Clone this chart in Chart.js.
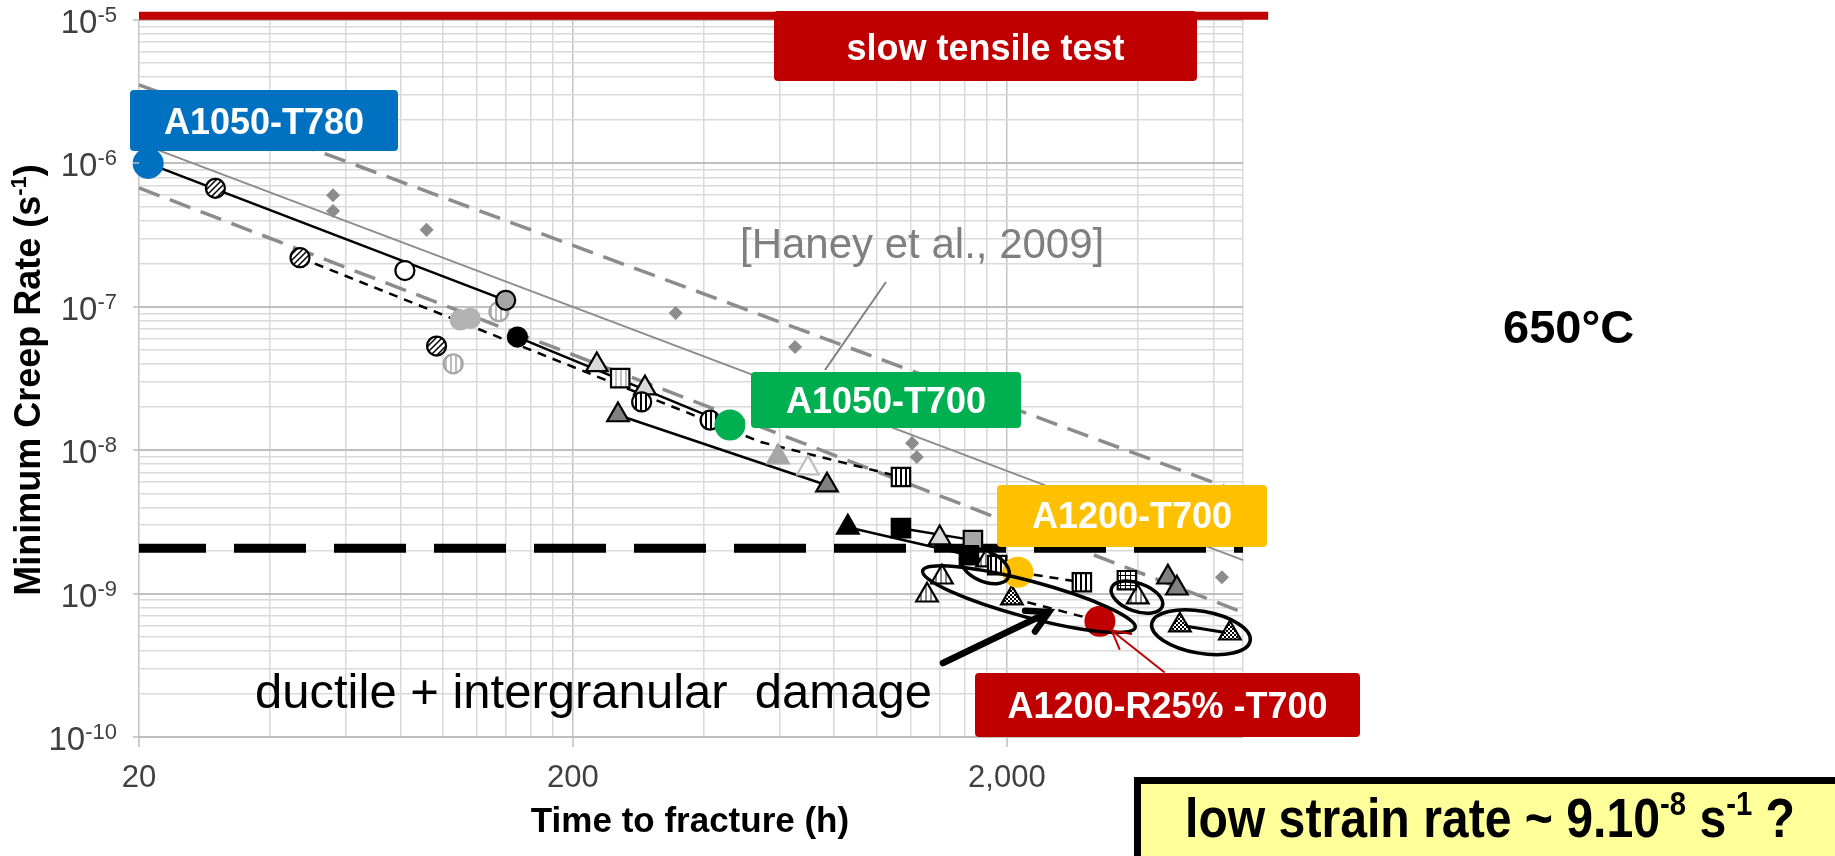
<!DOCTYPE html>
<html lang="en">
<head>
<meta charset="utf-8">
<title>Minimum creep rate vs. time to fracture - 650°C</title>
<script src="https://cdn.jsdelivr.net/npm/chart.js@4.4.1/dist/chart.umd.min.js"></script>
<style>
  html, body { margin: 0; padding: 0; background: #fff; overflow: hidden; }
  canvas { display: block; }
</style>
</head>
<body>
<canvas id="creepChart" width="1835" height="856"></canvas>
<script>
/* ===========================================================
   Minimum creep rate vs. time to fracture, 650°C (log-log)
   =========================================================== */

// axis ticks
const xTickValues = [20, 200, 2000];
const xTickLabels = ["20", "200", "2,000"];
const yTickExponents = [-10, -9, -8, -7, -6, -5];

// Haney et al., 2009: data points, fit and scatter band
const haneyHours = [56, 56, 92, 345, 650, 1210, 1240, 6260];
const haneyRates = [6.0e-7, 4.66e-7, 3.44e-7, 9.06e-8, 5.24e-8, 1.12e-8, 8.96e-9, 1.3e-9];
const bandHours = [20, 7000];
const haneyFitRates = [1.39e-6, 1.71e-9];
const haneyUpperRates = [3.53e-6, 5.0e-9];
const haneyLowerRates = [6.75e-7, 7.4e-10];

// reference strain-rate levels
const tensileHours = [20, 8000];
const tensileRates = [1.07e-5, 1.07e-5];
const lowRateHours = [20, 7000];
const lowRateRates = [2.07e-9, 2.07e-9];

// highlighted conditions
const alloyNames = ["A1050-T780", "A1050-T700", "A1200-T700", "A1200-R25% -T700"];
const alloyHours = [21, 460, 2120, 3276];
const alloyRates = [1.0e-6, 1.5e-8, 1.41e-9, 6.42e-10];

// trend lines
const t780LineHours = [21, 140];
const t780LineRates = [1.0e-6, 1.11e-7];
const dashLineHours = [47, 542, 1140];
const dashLineRates = [2.2e-7, 1.14e-8, 6.5e-9];
const t700LineHours = [149, 460];
const t700LineRates = [6.15e-8, 1.5e-8];
const t700LowHours = [254, 770];
const t700LowRates = [1.76e-8, 5.7e-9];
const a1200LineHours = [860, 1635, 2120];
const a1200LineRates = [2.9e-9, 1.85e-9, 1.41e-9];
const a1200SqHours = [1140, 1670];
const a1200SqRates = [2.86e-9, 2.36e-9];
const a1200DashHours = [2120, 2977];
const a1200DashRates = [1.41e-9, 1.2e-9];
const r25DashHours = [2054, 3276];
const r25DashRates = [9.29e-10, 6.42e-10];
const r25LineHours = [5008, 6530];
const r25LineRates = [6.02e-10, 5.29e-10];

// test results, grouped by marker
const circleWhiteHours = [82];
const circleWhiteRates = [1.79e-7];
const circleDiagHours = [30, 47, 97];
const circleDiagRates = [6.7e-7, 2.2e-7, 5.32e-8];
const circleGrayHours = [140];
const circleGrayRates = [1.11e-7];
const circlePaleHours = [110, 116];
const circlePaleRates = [8.1e-8, 8.3e-8];
const circlePaleHatchHours = [135, 106];
const circlePaleHatchRates = [9.25e-8, 4.0e-8];
const circleBlackHours = [149];
const circleBlackRates = [6.15e-8];
const circleVHatchHours = [288, 414];
const circleVHatchRates = [2.17e-8, 1.62e-8];
const triLightHours = [227, 293, 1400];
const triLightRates = [3.93e-8, 2.71e-8, 2.44e-9];
const squareLightHours = [257];
const squareLightRates = [3.18e-8];
const squareVHatchHours = [1140, 1900, 2977];
const squareVHatchRates = [6.5e-9, 1.58e-9, 1.2e-9];
const triDarkHours = [254, 770, 4700, 4929];
const triDarkRates = [1.76e-8, 5.7e-9, 1.3e-9, 1.09e-9];
const triGrayHours = [594];
const triGrayRates = [8.96e-9];
const triFaintHours = [696];
const triFaintRates = [7.5e-9];
const triBlackHours = [860];
const triBlackRates = [2.9e-9];
const squareBlackHours = [1140, 1635];
const squareBlackRates = [2.86e-9, 1.85e-9];
const squareGrayHours = [1670];
const squareGrayRates = [2.36e-9];
const squareGridHours = [3780];
const squareGridRates = [1.24e-9];
const triVHatchHours = [1800, 1417, 4005, 1309];
const triVHatchRates = [1.71e-9, 1.3e-9, 9.44e-10, 9.74e-10];
const triCheckerHours = [2054, 5008, 6530];
const triCheckerRates = [9.29e-10, 6.02e-10, 5.29e-10];

/* ---------- styling ---------- */

const FONT = "'Liberation Sans', Arial, Helvetica, sans-serif";
const alloyColors = ["#0070C0", "#00B050", "#FFC000", "#C00000"];

const ctx = document.getElementById("creepChart").getContext("2d");

// small fill patterns for hatched markers
function tile(size, paint) {
  const c = document.createElement("canvas");
  c.width = c.height = size;
  const g = c.getContext("2d");
  g.fillStyle = "#fff";
  g.fillRect(0, 0, size, size);
  paint(g, size);
  return ctx.createPattern(c, "repeat");
}
const diagHatch = tile(6, (g, s) => {
  g.strokeStyle = "#000";
  g.lineWidth = 1.5;
  g.beginPath();
  g.moveTo(0, s); g.lineTo(s, 0);
  g.moveTo(-1, 1); g.lineTo(1, -1);
  g.moveTo(s - 1, s + 1); g.lineTo(s + 1, s - 1);
  g.stroke();
});
const vHatch = (color) => tile(5, (g, s) => { g.fillStyle = color; g.fillRect(0, 0, 2, s); });
const checker = tile(4, (g) => {
  g.fillStyle = "#000";
  g.fillRect(0, 0, 2, 2);
  g.fillRect(2, 2, 2, 2);
});
const gridFill = tile(5, (g, s) => {
  g.fillStyle = "#000";
  g.fillRect(0, 0, s, 1);
  g.fillRect(0, 0, 1, s);
});

const toPoints = (hours, rates) => hours.map((h, i) => ({ x: h, y: rates[i] }));

function lineSet(hours, rates, color, width, dash, order, dashOffset) {
  return {
    data: toPoints(hours, rates),
    showLine: true,
    borderColor: color,
    borderWidth: width,
    borderDash: dash || [],
    borderDashOffset: dashOffset || 0,
    pointRadius: 0,
    fill: false,
    order: order,
    clip: false
  };
}

function markerSet(hours, rates, style, fill, edge, radius, order) {
  return {
    data: toPoints(hours, rates),
    showLine: false,
    pointStyle: style,
    pointRadius: radius,
    pointBackgroundColor: fill,
    pointBorderColor: edge,
    pointBorderWidth: 2.2,
    order: order,
    clip: false
  };
}

const CIRCLE = 9.5, TRI = 12.5, SQUARE = 13;

const datasets = [
  // highlighted conditions on top
  {
    data: toPoints(alloyHours, alloyRates),
    showLine: false,
    pointStyle: "circle",
    pointRadius: 15.5,
    pointBackgroundColor: alloyColors,
    pointBorderWidth: 0,
    order: 0,
    clip: false
  },

  markerSet(circleWhiteHours, circleWhiteRates, "circle", "#fff", "#000", CIRCLE, 1),
  markerSet(circleDiagHours, circleDiagRates, "circle", diagHatch, "#000", CIRCLE, 1),
  markerSet(circleGrayHours, circleGrayRates, "circle", "#a6a6a6", "#000", CIRCLE, 1),
  markerSet(circlePaleHours, circlePaleRates, "circle", "#b3b3b3", "#b3b3b3", CIRCLE, 1),
  markerSet(circlePaleHatchHours, circlePaleHatchRates, "circle", vHatch("#bdbdbd"), "#a6a6a6", CIRCLE, 1),
  markerSet(circleBlackHours, circleBlackRates, "circle", "#000", "#000", CIRCLE, 1),
  markerSet(circleVHatchHours, circleVHatchRates, "circle", vHatch("#000"), "#000", CIRCLE, 1),
  markerSet(triLightHours, triLightRates, "triangle", "#d9d9d9", "#000", TRI, 1),
  markerSet(squareLightHours, squareLightRates, "rect", vHatch("#bfbfbf"), "#000", SQUARE, 1),
  markerSet(squareVHatchHours, squareVHatchRates, "rect", vHatch("#000"), "#000", SQUARE, 1),
  markerSet(triDarkHours, triDarkRates, "triangle", "#808080", "#000", TRI, 1),
  markerSet(triGrayHours, triGrayRates, "triangle", "#a6a6a6", "#a6a6a6", TRI, 1),
  markerSet(triFaintHours, triFaintRates, "triangle", "#fff", "#bfbfbf", TRI, 1),
  markerSet(triBlackHours, triBlackRates, "triangle", "#000", "#000", TRI, 1),
  markerSet(squareBlackHours, squareBlackRates, "rect", "#000", "#000", SQUARE, 1),
  markerSet(squareGrayHours, squareGrayRates, "rect", "#a6a6a6", "#000", SQUARE, 1),
  markerSet(squareGridHours, squareGridRates, "rect", gridFill, "#000", SQUARE, 1),
  markerSet(triVHatchHours, triVHatchRates, "triangle", vHatch("#8c8c8c"), "#000", TRI, 1),
  markerSet(triCheckerHours, triCheckerRates, "triangle", checker, "#000", TRI, 1),

  // 2e-9 s-1 level
  lineSet(lowRateHours, lowRateRates, "#000", 9, [72, 28], 2, 5),

  // trend lines of each condition
  lineSet(t780LineHours, t780LineRates, "#000", 2.5, null, 3),
  lineSet(dashLineHours, dashLineRates, "#000", 2.5, [9, 7], 3),
  lineSet(t700LineHours, t700LineRates, "#000", 2.5, null, 3),
  lineSet(t700LowHours, t700LowRates, "#000", 2.5, null, 3),
  lineSet(a1200LineHours, a1200LineRates, "#000", 2.5, null, 3),
  lineSet(a1200SqHours, a1200SqRates, "#000", 2.5, null, 3),
  lineSet(a1200DashHours, a1200DashRates, "#000", 2.5, [9, 7], 3),
  lineSet(r25DashHours, r25DashRates, "#000", 2.5, [9, 7], 3),
  lineSet(r25LineHours, r25LineRates, "#000", 3, null, 3),

  // Haney et al. band
  markerSet(haneyHours, haneyRates, "rectRot", "#8c8c8c", "#8c8c8c", 5.5, 4),
  lineSet(bandHours, haneyFitRates, "#8c8c8c", 2, null, 5),
  lineSet(bandHours, haneyUpperRates, "#8c8c8c", 3.5, [22, 11], 5),
  lineSet(bandHours, haneyLowerRates, "#8c8c8c", 3.5, [22, 11], 5),

  // slow tensile test level
  lineSet(tensileHours, tensileRates, "#C00000", 8, null, 5)
];

// gridline positions: every mantissa of each decade
const xGrid = [];
xTickValues.forEach((d) => {
  for (let m = 1; m <= 9; m++) if (d * m <= 7000) xGrid.push(d * m);
});
xGrid.push(7000);
const yGrid = [];
yTickExponents.slice(0, -1).forEach((e) => {
  for (let m = 1; m <= 9; m++) yGrid.push(m * Math.pow(10, e));
});
yGrid.push(1e-5);

const isDecade = (v) => Math.abs(Math.log10(v) - Math.round(Math.log10(v))) < 1e-9;

/* ---------- annotations ---------- */

function roundRect(g, x0, y0, x1, y1, r) {
  g.beginPath();
  g.moveTo(x0 + r, y0);
  g.lineTo(x1 - r, y0);
  g.quadraticCurveTo(x1, y0, x1, y0 + r);
  g.lineTo(x1, y1 - r);
  g.quadraticCurveTo(x1, y1, x1 - r, y1);
  g.lineTo(x0 + r, y1);
  g.quadraticCurveTo(x0, y1, x0, y1 - r);
  g.lineTo(x0, y0 + r);
  g.quadraticCurveTo(x0, y0, x0 + r, y0);
  g.closePath();
}

function labelBox(g, rect, fill, text, baseline) {
  const [x0, y0, x1, y1] = rect;
  g.fillStyle = fill;
  roundRect(g, x0, y0, x1, y1, 4);
  g.fill();
  g.fillStyle = "#fff";
  g.font = `bold 36px ${FONT}`;
  g.textAlign = "center";
  g.fillText(text, (x0 + x1) / 2, baseline);
}

function arrow(g, x0, y0, x1, y1, color, width, head) {
  const a = Math.atan2(y1 - y0, x1 - x0);
  g.strokeStyle = color;
  g.lineWidth = width;
  g.lineCap = "round";
  g.beginPath();
  g.moveTo(x0, y0);
  g.lineTo(x1, y1);
  g.moveTo(x1 - head * Math.cos(a - 0.5), y1 - head * Math.sin(a - 0.5));
  g.lineTo(x1, y1);
  g.lineTo(x1 - head * Math.cos(a + 0.5), y1 - head * Math.sin(a + 0.5));
  g.stroke();
  g.lineCap = "butt";
}

// text runs with raised exponents: [text, size, rise]
function runsWidth(g, runs, weight) {
  return runs.reduce((w, [t, size]) => {
    g.font = `${weight} ${size}px ${FONT}`;
    return w + g.measureText(t).width;
  }, 0);
}
function drawRuns(g, runs, weight, x, y) {
  g.textAlign = "left";
  runs.forEach(([t, size, rise]) => {
    g.font = `${weight} ${size}px ${FONT}`;
    g.fillText(t, x, y - rise);
    x += g.measureText(t).width;
  });
}

// rings drawn around groups of results (centre in data units, radii in px)
const rings = [
  { hours: 2248, rate: 9.14e-10, rx: 110, ry: 18, tilt: 15 },
  { hours: 1780, rate: 1.55e-9, rx: 26, ry: 15, tilt: 25 },
  { hours: 3988, rate: 9.44e-10, rx: 27, ry: 14, tilt: 20 },
  { hours: 5600, rate: 5.38e-10, rx: 50, ry: 21, tilt: 10 }
];

const labelRects = [[130, 90, 398, 151], [751, 372, 1021, 428], [997, 485, 1267, 547], [975, 673, 1360, 737]];
const labelBaselines = [134, 413, 528, 718];

const decorations = {
  id: "decorations",
  afterDraw(chart) {
    const g = chart.ctx;
    const { x, y } = chart.scales;
    const area = chart.chartArea;
    g.save();

    // tick marks
    g.strokeStyle = "#bfbfbf";
    g.lineWidth = 1.5;
    g.beginPath();
    xTickValues.forEach((v) => {
      const px = Math.round(x.getPixelForValue(v));
      g.moveTo(px, area.bottom);
      g.lineTo(px, area.bottom + 10);
    });
    yTickExponents.forEach((e) => {
      const py = Math.round(y.getPixelForValue(Math.pow(10, e)));
      g.moveTo(area.left - 6, py);
      g.lineTo(area.left, py);
    });
    g.stroke();

    // x tick labels
    g.fillStyle = "#404040";
    g.font = `31px ${FONT}`;
    g.textAlign = "center";
    xTickValues.forEach((v, i) => g.fillText(xTickLabels[i], x.getPixelForValue(v), 787));

    // y tick labels as powers of ten
    yTickExponents.forEach((e) => {
      const py = y.getPixelForValue(Math.pow(10, e));
      const exp = String(e);
      g.font = `22px ${FONT}`;
      const wExp = g.measureText(exp).width;
      g.font = `33px ${FONT}`;
      const wBase = g.measureText("10").width;
      g.textAlign = "left";
      g.fillText("10", 117 - wExp - wBase, py + 13);
      g.font = `22px ${FONT}`;
      g.fillText(exp, 117 - wExp, py + 2);
    });

    // axis titles
    g.fillStyle = "#000";
    g.font = `bold 35px ${FONT}`;
    g.textAlign = "center";
    g.fillText("Time to fracture (h)", 690, 832);

    const yTitle = [["Minimum Creep Rate (s", 36, 0], ["-1", 22, 14], [")", 36, 0]];
    g.save();
    g.translate(40, 380);
    g.rotate(-Math.PI / 2);
    drawRuns(g, yTitle, "bold", -runsWidth(g, yTitle, "bold") / 2, 0);
    g.restore();

    // rings around grouped results
    g.strokeStyle = "#000";
    g.lineWidth = 3.5;
    rings.forEach((r) => {
      g.beginPath();
      g.ellipse(x.getPixelForValue(r.hours), y.getPixelForValue(r.rate), r.rx, r.ry,
        (r.tilt * Math.PI) / 180, 0, 2 * Math.PI);
      g.stroke();
    });

    // pointer to the damaged group
    arrow(g, 943, 663, 1049, 612, "#000", 6.5, 24);

    // pointer from the R25% label to its result
    const rx = x.getPixelForValue(alloyHours[3]);
    const ry = y.getPixelForValue(alloyRates[3]);
    const tail = [1164, 672];
    const d = Math.hypot(tail[0] - rx, tail[1] - ry);
    arrow(g, tail[0], tail[1], rx + ((tail[0] - rx) / d) * 15, ry + ((tail[1] - ry) / d) * 15, "#C00000", 2, 20);

    // Haney et al. label and leader
    g.strokeStyle = "#7f7f7f";
    g.lineWidth = 2;
    g.beginPath();
    g.moveTo(886, 282);
    g.lineTo(825, 370);
    g.stroke();
    g.fillStyle = "#7f7f7f";
    g.font = `42px ${FONT}`;
    g.textAlign = "left";
    g.fillText("[Haney et al., 2009]", 740, 258);

    // boxed labels
    labelBox(g, [774, 11, 1197, 81], "#C00000", "slow tensile test", 60);
    alloyNames.forEach((name, i) => labelBox(g, labelRects[i], alloyColors[i], name, labelBaselines[i]));

    // damage note
    g.fillStyle = "#000";
    g.font = `49px ${FONT}`;
    g.textAlign = "left";
    g.fillText("ductile + intergranular  damage", 255, 708);

    // temperature
    g.font = `bold 47px ${FONT}`;
    g.fillText("650°C", 1503, 343);

    // strain-rate question box
    g.fillStyle = "#FFFF99";
    g.fillRect(1137, 780, 720, 100);
    g.strokeStyle = "#000";
    g.lineWidth = 7;
    g.strokeRect(1137.5, 780.5, 720, 100);
    const note = [["low strain rate ~ 9.10", 56, 0], ["-8", 34, 22], [" s", 56, 0], ["-1", 34, 22], [" ?", 56, 0]];
    const sx = 610 / runsWidth(g, note, "bold");
    g.fillStyle = "#000";
    g.save();
    g.translate(1185, 837);
    g.scale(sx, 1);
    drawRuns(g, note, "bold", 0, 0);
    g.restore();

    g.restore();
  }
};

new Chart(ctx, {
  type: "scatter",
  data: { datasets },
  options: {
    responsive: false,
    devicePixelRatio: 1,
    animation: false,
    events: [],
    layout: { padding: { left: 139, top: 20, right: 592, bottom: 119 } },
    plugins: {
      legend: { display: false },
      tooltip: { enabled: false }
    },
    scales: {
      x: {
        type: "logarithmic",
        min: 20,
        max: 7000,
        afterBuildTicks: (scale) => { scale.ticks = xGrid.map((v) => ({ value: v })); },
        ticks: { display: false },
        grid: {
          drawTicks: false,
          lineWidth: 1.5,
          color: (c) => (c.tick && xTickValues.includes(c.tick.value) ? "#c4c4c4" : "#dadada")
        },
        border: { display: false }
      },
      y: {
        type: "logarithmic",
        min: 1e-10,
        max: 1e-5,
        afterBuildTicks: (scale) => { scale.ticks = yGrid.map((v) => ({ value: v })); },
        ticks: { display: false },
        grid: {
          drawTicks: false,
          lineWidth: (c) => (c.tick && isDecade(c.tick.value) ? 2 : 1.5),
          color: (c) => (c.tick && isDecade(c.tick.value) ? "#bfbfbf" : "#dadada")
        },
        border: { display: false }
      }
    }
  },
  plugins: [decorations]
});
</script>
</body>
</html>
